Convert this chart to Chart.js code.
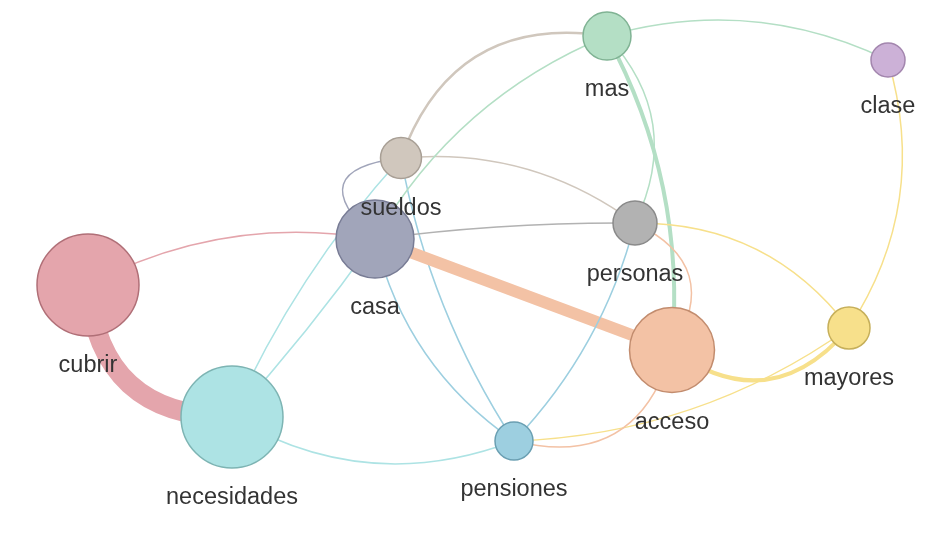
<!DOCTYPE html>
<html>
<head>
<meta charset="utf-8">
<script src="https://cdn.jsdelivr.net/npm/chart.js@4.4.0/dist/chart.umd.min.js"></script>
<style>
  html, body { margin: 0; padding: 0; background: #fff; }
  #wrap { width: 952px; height: 536px; }
</style>
</head>
<body>
<div id="wrap"><canvas id="chart"></canvas></div>
<script>
// Nodos (posición del layout y peso)
const nodeNames = ["cubrir", "necesidades", "casa", "sueldos", "mas", "clase", "personas", "acceso", "mayores", "pensiones"];
const nodeX = [88, 232, 375, 401, 607, 888, 635, 672, 849, 514];
const nodeY = [285, 417, 239, 158, 36, 60, 223, 350, 328, 441];
const nodeWeight = [51, 51, 39, 20.5, 24, 17, 22, 42.5, 21, 19];

// Aristas: origen -> destino (el color es el del destino), peso
const edgeSource = ["necesidades", "casa", "sueldos", "casa", "sueldos", "sueldos", "casa", "pensiones",
  "mas", "personas", "casa", "casa", "casa", "acceso", "personas", "clase",
  "clase", "personas", "personas", "personas", "acceso", "pensiones", "pensiones"];
const edgeTarget = ["cubrir", "cubrir", "casa", "pensiones", "pensiones", "necesidades", "necesidades", "necesidades",
  "sueldos", "sueldos", "personas", "acceso", "mas", "mas", "mas", "mas",
  "mayores", "mayores", "acceso", "pensiones", "mayores", "mayores", "acceso"];
const edgeWeight = [20, 1.5, 1.5, 1.5, 1.5, 1.5, 1.5, 1.5,
  2.5, 1.5, 1.5, 12, 1.5, 4, 1.5, 1.5,
  1.5, 1.5, 1.5, 1.5, 4, 1.5, 1.5];

// Estilo
const edgeCurve = [-0.46, 0.17, 1.1, 0.19, 0.1, 0.08, -0.03, -0.24,
  0.41, 0.19, -0.035, 0, -0.17, 0.15, 0.34, 0.19,
  -0.23, -0.25, -0.56, -0.13, 0.46, 0.15, 0.48];
const nodeFill = ["#e4a5ac", "#ade3e4", "#a1a5ba", "#d0c7bd", "#b4dfc5", "#ccb1d7", "#b2b2b2", "#f3c2a5", "#f7e08b", "#9dcfe0"];
const nodeStroke = ["#b06f77", "#7db4b3", "#787c95", "#a89f95", "#80b394", "#a386ae", "#8a8a8a", "#c28c6e", "#c6af5a", "#6a9fb2"];

const idx = (name) => nodeNames.indexOf(name);

// Dibuja las aristas como curvas cuadráticas
const edgesPlugin = {
  id: "edges",
  beforeDatasetsDraw(chart) {
    const { ctx, scales } = chart;
    ctx.save();
    ctx.lineCap = "butt";
    for (let i = 0; i < edgeSource.length; i++) {
      const s = idx(edgeSource[i]);
      const t = idx(edgeTarget[i]);
      const x0 = scales.x.getPixelForValue(nodeX[s]);
      const y0 = scales.y.getPixelForValue(nodeY[s]);
      const x1 = scales.x.getPixelForValue(nodeX[t]);
      const y1 = scales.y.getPixelForValue(nodeY[t]);
      const dx = x1 - x0, dy = y1 - y0;
      const len = Math.sqrt(dx * dx + dy * dy);
      const nx = -dy / len, ny = dx / len;
      const cx = (x0 + x1) / 2 + nx * edgeCurve[i] * len;
      const cy = (y0 + y1) / 2 + ny * edgeCurve[i] * len;
      ctx.beginPath();
      ctx.moveTo(x0, y0);
      ctx.quadraticCurveTo(cx, cy, x1, y1);
      ctx.strokeStyle = nodeFill[t];
      ctx.lineWidth = edgeWeight[i];
      ctx.stroke();
    }
    ctx.restore();
  },
  afterDatasetsDraw(chart) {
    const { ctx, scales } = chart;
    ctx.save();
    ctx.font = '23.5px "Liberation Sans", Arial, sans-serif';
    ctx.fillStyle = "#333333";
    ctx.textAlign = "center";
    ctx.textBaseline = "alphabetic";
    nodeNames.forEach((name, i) => {
      const x = scales.x.getPixelForValue(nodeX[i]);
      const y = scales.y.getPixelForValue(nodeY[i]);
      ctx.fillText(name, x, y + nodeWeight[i] + 36);
    });
    ctx.restore();
  },
};

const ctx = document.getElementById("chart").getContext("2d");
new Chart(ctx, {
  type: "bubble",
  data: {
    datasets: [{
      data: nodeNames.map((n, i) => ({ x: nodeX[i], y: nodeY[i], r: nodeWeight[i] })),
      backgroundColor: nodeFill,
      borderColor: nodeStroke,
      borderWidth: 1.5,
      hoverRadius: 0,
      clip: false,
    }],
  },
  options: {
    responsive: true,
    maintainAspectRatio: false,
    animation: false,
    layout: { padding: 0, autoPadding: false },
    plugins: {
      legend: { display: false },
      tooltip: { enabled: false },
    },
    scales: {
      x: { type: "linear", min: 0, max: 952, display: false },
      y: { type: "linear", min: 0, max: 536, reverse: true, display: false },
    },
  },
  plugins: [edgesPlugin],
});
</script>
</body>
</html>
